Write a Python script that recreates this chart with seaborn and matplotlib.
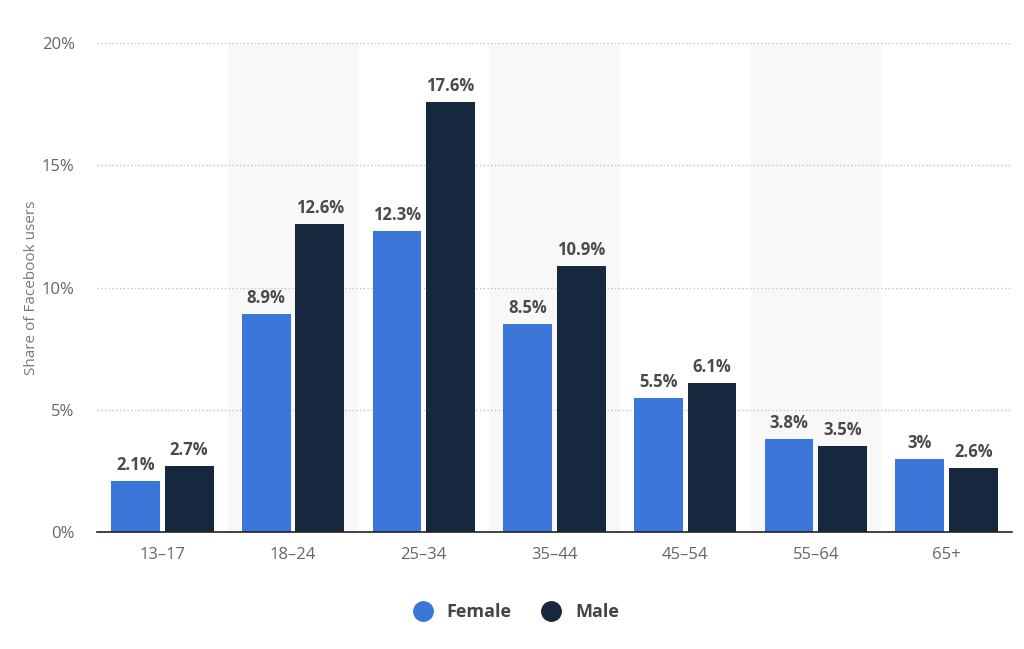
import pandas as pd
import matplotlib.pyplot as plt
import seaborn as sns
from matplotlib.lines import Line2D

# data
age_groups = ['13–17', '18–24', '25–34', '35–44', '45–54', '55–64', '65+']
female = [2.1, 8.9, 12.3, 8.5, 5.5, 3.8, 3.0]
male = [2.7, 12.6, 17.6, 10.9, 6.1, 3.5, 2.6]
female_labels = ['2.1%', '8.9%', '12.3%', '8.5%', '5.5%', '3.8%', '3%']
male_labels = ['2.7%', '12.6%', '17.6%', '10.9%', '6.1%', '3.5%', '2.6%']

df = pd.DataFrame({
    'Age': age_groups * 2,
    'Share': female + male,
    'Gender': ['Female'] * len(age_groups) + ['Male'] * len(age_groups),
})

colors = {'Female': '#3a77d9', 'Male': '#15283d'}

sns.set_style('white')
plt.rcParams['font.family'] = ['Open Sans', 'DejaVu Sans']

fig = plt.figure(figsize=(10.24, 6.49), dpi=100)
ax = fig.add_axes([0.0947, 0.1803, 0.8935, 0.7534])

# alternating background bands
for i in range(1, len(age_groups), 2):
    ax.axvspan(i - 0.5, i + 0.5, color='#f8f8f8', zorder=0, lw=0)

sns.barplot(data=df, x='Age', y='Share', hue='Gender', palette=colors,
            width=0.82, gap=0.09, ax=ax, legend=False, zorder=3,
            saturation=1, linewidth=0)

for cont, labels in zip(ax.containers, [female_labels, male_labels]):
    ax.bar_label(cont, labels=labels, padding=5, fontsize=12,
                 fontweight='bold', color='#4a4a4a')

ax.set_ylim(0, 20)
ax.set_xlim(-0.5, len(age_groups) - 0.5)
ax.set_yticks([0, 5, 10, 15, 20])
ax.set_yticklabels(['0%', '5%', '10%', '15%', '20%'])
ax.yaxis.grid(True, linestyle=(0, (1, 2)), color='#bbbbbb', lw=0.9, zorder=1)
ax.set_axisbelow(True)

for s in ['top', 'right', 'left']:
    ax.spines[s].set_visible(False)
ax.spines['bottom'].set_color('#222222')
ax.spines['bottom'].set_linewidth(1.2)
ax.spines['bottom'].set_zorder(4)

ax.tick_params(axis='both', length=0, labelsize=12, colors='#666666')
ax.tick_params(axis='x', pad=11)
ax.tick_params(axis='y', pad=16)
ax.set_xlabel('')
ax.set_ylabel('Share of Facebook users', fontsize=11, color='#777777', labelpad=2)

handles = [Line2D([], [], marker='o', ls='', markersize=14, color=colors[g]) for g in ['Female', 'Male']]
fig.legend(handles, ['Female', 'Male'], loc='center', bbox_to_anchor=(0.5, 0.057),
           ncol=2, frameon=False, handletextpad=0.3, columnspacing=1.2,
           prop={'size': 13, 'weight': 'bold'}, labelcolor='#444444')

fig.savefig('out.png', dpi=100)
